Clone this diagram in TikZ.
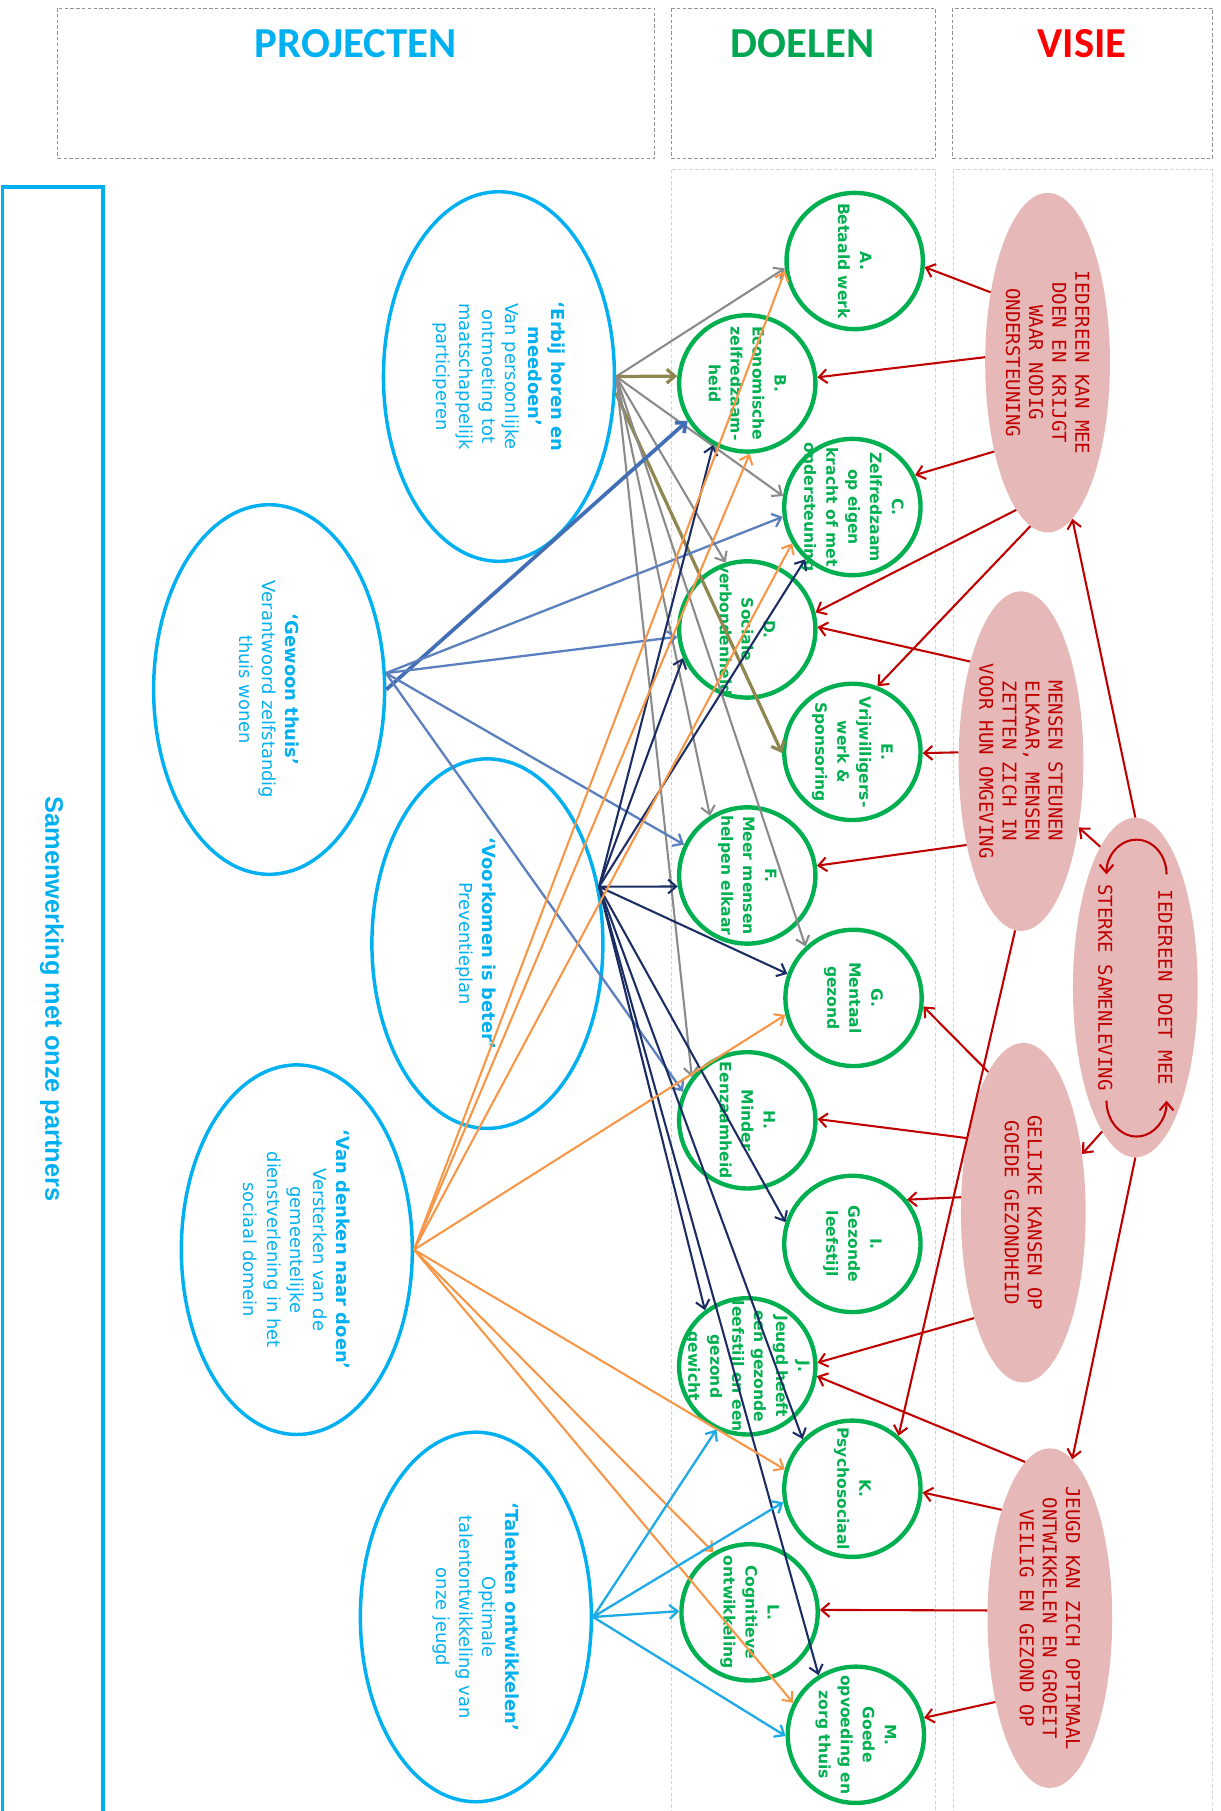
\documentclass[tikz,border=0pt]{standalone}
\usepackage{fontspec}
\setmainfont{DejaVu Sans}
\newfontfamily\kopfont{Carlito}
\newfontfamily\visiefont{DejaVu Sans Mono}
\newfontfamily\balkfont{Liberation Sans}
\usetikzlibrary{shapes.geometric,arrows.meta}

\definecolor{projblauw}{RGB}{0,176,240}
\definecolor{doelgroen}{RGB}{0,176,80}
\definecolor{kopgroen}{RGB}{0,166,81}
\definecolor{koprood}{RGB}{255,0,0}
\definecolor{visierood}{RGB}{192,0,0}
\definecolor{visieroze}{RGB}{230,185,184}
\definecolor{pijlgrijs}{RGB}{138,138,138}
\definecolor{pijlolijf}{RGB}{143,135,80}
\definecolor{pijlblauw}{RGB}{92,128,190}
\definecolor{pijldonkerblauw}{RGB}{66,110,182}
\definecolor{pijlnavy}{RGB}{28,45,100}
\definecolor{pijloranje}{RGB}{247,150,70}
\definecolor{pijlcyaan}{RGB}{30,170,230}

\def \doelmaat {118pt}
\def \tip {Straight Barb[length=7pt,width=12pt]}

\tikzset{
  kop/.style={draw=gray!85, densely dashed, line width=0.8pt},
  kolom/.style={draw=gray!35, densely dashed, line width=0.6pt},
  project/.style={draw=projblauw, line width=3pt, ellipse, minimum width=200pt, minimum height=320pt, inner sep=0pt},
  projtekst/.style={rotate=-90, align=center, text=projblauw, font=\fontsize{15.5}{20}\selectfont},
  doel/.style={draw=doelgroen, line width=3.8pt, circle, minimum size=\doelmaat, inner sep=0pt},
  doeltekst/.style={rotate=-90, align=center, text=doelgroen, font=\fontsize{13.5}{19}\selectfont\bfseries},
  visie/.style={fill=visieroze, ellipse, minimum width=108pt, minimum height=294pt, inner sep=0pt},
  visietekst/.style={rotate=-90, align=center, text=visierood, font=\visiefont\fontsize{16.5}{20}\selectfont},
  pGrijs/.style={draw=pijlgrijs, line width=1.8pt, -{\tip}},
  pOlijf/.style={draw=pijlolijf, line width=2.8pt, -{\tip}},
  pBlauw/.style={draw=pijlblauw, line width=2pt, -{\tip}},
  pBlauwdik/.style={draw=pijldonkerblauw, line width=3.2pt, -{\tip}},
  pNavy/.style={draw=pijlnavy, line width=1.8pt, -{\tip}},
  pOranje/.style={draw=pijloranje, line width=1.8pt, -{\tip}},
  pCyaan/.style={draw=pijlcyaan, line width=2pt, -{\tip}},
  pRood/.style={draw=visierood, line width=1.8pt, -{\tip}}
}

\begin{document}
\begin{tikzpicture}[x=1pt, y=-1pt]
\useasboundingbox (0,0) rectangle (1057,1568);

% koppen
\draw[kop] (50,7) rectangle (567,137);
\draw[kop] (581,7) rectangle (810,137);
\draw[kop] (825,7) rectangle (1050,137);
\node[text=projblauw, font=\kopfont\bfseries\fontsize{37}{40}\selectfont] (kopProjecten) at (308,38) {PROJECTEN};
\node[text=kopgroen, font=\kopfont\bfseries\fontsize{37}{40}\selectfont] (kopDoelen) at (695,38) {DOELEN};
\node[text=koprood, font=\kopfont\bfseries\fontsize{37}{40}\selectfont] (kopVisie) at (937,38) {VISIE};

% kolommen
\draw[kolom] (581,147) rectangle (810,1580);
\draw[kolom] (825,147) rectangle (1050,1580);

% samenwerking
\draw[draw=projblauw, line width=3pt] (2,162) rectangle (89,1585);
\node[rotate=-90, text=projblauw, font=\balkfont\bfseries\fontsize{22}{26}\selectfont] (partners) at (45,865) {Samenwerking met onze partners};

% projecten
\node[project, label={[projtekst]center:{\textbf{‘Erbij horen en}\\\textbf{meedoen’}\\Van persoonlijke\\ontmoeting tot\\maatschappelijk\\participeren}}] (erbij) at (432,326) {};
\node[project, label={[projtekst]center:{\textbf{‘Gewoon thuis’}\\Verantwoord zelfstandig\\thuis wonen}}] (gewoon) at (233,597) {};
\node[project, label={[xshift=-10pt, projtekst]center:{\textbf{‘Voorkomen is beter’}\\Preventieplan}}] (voorkomen) at (422,817) {};
\node[project, label={[projtekst]center:{\textbf{‘Van denken naar doen’}\\Versterken van de\\gemeentelijke\\dienstverlening in het\\sociaal domein}}] (denken) at (257,1082) {};
\node[project, label={[projtekst]center:{\textbf{‘Talenten ontwikkelen’}\\Optimale\\talentontwikkeling van\\onze jeugd}}] (talenten) at (412,1400) {};

% doelen
\node[doel, label={[doeltekst]center:{A.\\Betaald werk}}] (gA) at (740,226) {};
\node[doel, label={[doeltekst]center:{B.\\Economische\\zelfredzaam-\\heid}}] (gB) at (647,332) {};
\node[doel, label={[doeltekst]center:{C.\\Zelfredzaam\\op eigen\\kracht of met\\ondersteuning}}] (gC) at (738,439) {};
\node[doel, label={[doeltekst]center:{D.\\Sociale\\verbondenheid}}] (gD) at (647,545) {};
\node[doel, label={[doeltekst]center:{E.\\Vrijwilligers-\\werk \&\\Sponsoring}}] (gE) at (738,651) {};
\node[doel, label={[doeltekst]center:{F.\\Meer mensen\\helpen elkaar}}] (gF) at (647,758) {};
\node[doel, label={[doeltekst]center:{G.\\Mentaal\\gezond}}] (gG) at (739,864) {};
\node[doel, label={[doeltekst]center:{H.\\Minder\\Eenzaamheid}}] (gH) at (647,970) {};
\node[doel, label={[doeltekst]center:{I.\\Gezonde\\leefstijl}}] (gI) at (738,1077) {};
\node[doel, label={[doeltekst]center:{J.\\Jeugd heeft\\een gezonde\\leefstijl en een\\gezond\\gewicht}}] (gJ) at (647,1183) {};
\node[doel, label={[doeltekst]center:{K.\\Psychosociaal}}] (gK) at (738,1289) {};
\node[doel, label={[doeltekst]center:{L.\\Cognitieve\\ontwikkeling}}] (gL) at (649,1396) {};
\node[doel, label={[doeltekst]center:{M.\\Goede\\opvoeding en\\zorg thuis}}] (gM) at (741,1502) {};

% visie
\node[visie, label={[visietekst]center:{IEDEREEN KAN MEE\\DOEN EN KRIJGT\\WAAR NODIG\\ONDERSTEUNING}}] (vMee) at (907,314) {};
\node[visie, label={[visietekst]center:{MENSEN STEUNEN\\ELKAAR, MENSEN\\ZETTEN ZICH IN\\VOOR HUN OMGEVING}}] (vSteun) at (884,659) {};
\node[visie, label={[visietekst]center:{GELIJKE KANSEN OP\\GOEDE GEZONDHEID}}] (vKansen) at (886,1050) {};
\node[visie, label={[visietekst]center:{JEUGD KAN ZICH OPTIMAAL\\ONTWIKKELEN EN GROEIT\\VEILIG EN GEZOND OP}}] (vJeugd) at (909,1401) {};
\node[visie, label={[visietekst]center:{IEDEREEN DOET MEE\\[32pt]STERKE SAMENLEVING}}] (vSamen) at (983,855) {};
\draw[pRood] ([shift={(27,-98)}]vSamen.center) arc[start angle=0, end angle=-180, x radius=26, y radius=30];
\draw[pRood] ([shift={(-25,98)}]vSamen.center) arc[start angle=180, end angle=0, x radius=26, y radius=31];

% pijlen erbij horen
\draw[pGrijs] (erbij.east) -- (gA.186);
\draw[pOlijf] (erbij.east) -- (gB.174);
\draw[pGrijs] (erbij.east) -- (gC.171);
\draw[pGrijs] (erbij.east) -- (gD.108);
\draw[pOlijf] (erbij.-8) -- (gE.181);
\draw[pGrijs] (erbij.east) -- (gF.122);
\draw[pGrijs] (erbij.east) -- (gG.133);
\draw[pGrijs] (erbij.east) -- (gH.142);

% pijlen gewoon thuis
\draw[pBlauwdik] (gewoon.east) -- (gB.212);
\draw[pBlauw] (gewoon.8) -- (gC.188);
\draw[pBlauw] (gewoon.8) -- (gD.186);
\draw[pBlauw] (gewoon.8) -- (gF.154);
\draw[pBlauw] (gewoon.8) -- (gH.156);

% pijlen voorkomen
\draw[pNavy] (voorkomen.27) -- (gB.241);
\draw[pNavy] (voorkomen.27) -- (gC.228);
\draw[pNavy] (voorkomen.27) -- (gD.204);
\draw[pNavy] (voorkomen.27) -- (gF.189);
\draw[pNavy] (voorkomen.27) -- (gG.160);
\draw[pNavy] (voorkomen.27) -- (gI.162);
\draw[pNavy] (voorkomen.27) -- (gJ.127);
\draw[pNavy] (voorkomen.27) -- (gK.135);
\draw[pNavy] (voorkomen.27) -- (gM.122);

% pijlen van denken naar doen
\draw[pOranje] (denken.east) -- (gA.188);
\draw[pOranje] (denken.east) -- (gB.272);
\draw[pOranje] (denken.east) -- (gC.211);
\draw[pOranje] (denken.east) -- (gG.194);
\draw[pOranje] (denken.east) -- (gK.164);
\draw[pOranje] (denken.east) -- (gL.121);
\draw[pOranje] (denken.east) -- (gM.153);

% pijlen talenten
\draw[pCyaan] (talenten.east) -- (gJ.244);
\draw[pCyaan] (talenten.east) -- (gK.191);
\draw[pCyaan] (talenten.east) -- (gL.179);
\draw[pCyaan] (talenten.east) -- (gM.181);

% visie naar doelen
\draw[pRood] (vMee.129) -- (gA.355);
\draw[pRood] (vMee.175) -- (gB.5);
\draw[pRood] (vMee.239) -- (gC.27);
\draw[pRood] (vMee.258) -- (gD.14);
\draw[pRood] (vMee.264) -- (gE.69);
\draw[pRood] (vSteun.117) -- (gD.2);
\draw[pRood] (vSteun.172) -- (gE.359);
\draw[pRood] (vSteun.237) -- (gF.8);
\draw[pRood] (vSteun.268) -- (gK.49);
\draw[pRood] (vKansen.104) -- (gG.353);
\draw[pRood] (vKansen.127) -- (gH.1);
\draw[pRood] (vKansen.166) -- (gI.39);
\draw[pRood] (vKansen.245) -- (gJ.3);
\draw[pRood] (vJeugd.99) -- (gJ.352);
\draw[pRood] (vJeugd.114) -- (gK.357);
\draw[pRood] (vJeugd.173) -- (gL.2);
\draw[pRood] (vJeugd.237) -- (gM.14);

% samenleving naar visie
\draw[pRood] (vSamen.north) -- (vMee.279);
\draw[pRood] (vSamen.104) -- (vSteun.311);
\draw[pRood] (vSamen.257) -- (vKansen.45);
\draw[pRood] (vSamen.south) -- (vJeugd.82);
\end{tikzpicture}
\end{document}
